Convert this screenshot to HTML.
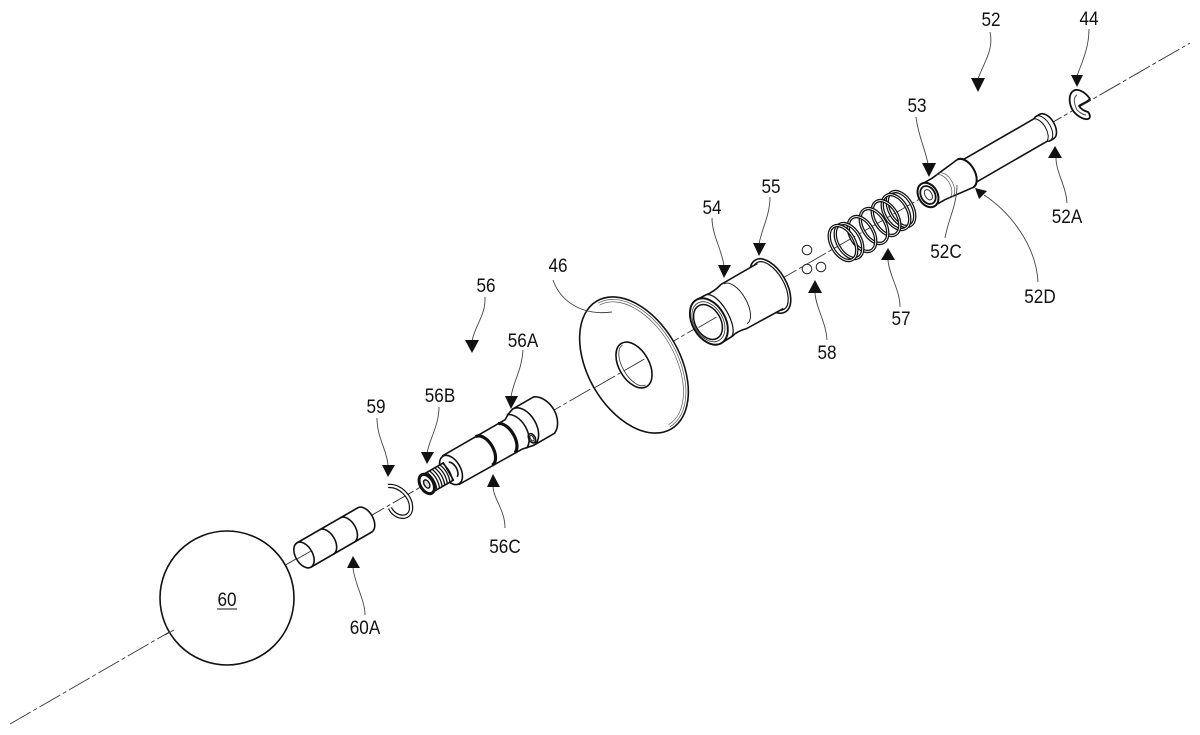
<!DOCTYPE html>
<html>
<head>
<meta charset="utf-8">
<style>
html,body{margin:0;padding:0;background:#fff}
svg{display:block}
text{font-family:"Liberation Sans",Arial,sans-serif;font-size:19.5px;fill:#111;text-anchor:middle}
.o{fill:#fff;stroke:#111;stroke-width:1.6;stroke-linejoin:round}
.n{fill:none;stroke:#111;stroke-width:1.6}
.t{fill:none;stroke:#333;stroke-width:.8}
.g{fill:none;stroke:#555;stroke-width:.7}
.k{fill:none;stroke:#111;stroke-width:3.2}
.a{fill:none;stroke:#333;stroke-width:.9;stroke-dasharray:24 3 4 3}
.l{fill:none;stroke:#444;stroke-width:.9}
.c1{fill:none;stroke:#111;stroke-width:3.4}
.c2{fill:none;stroke:#fff;stroke-width:.9}
.r1{fill:none;stroke:#111;stroke-width:4.4}
.r2{fill:none;stroke:#fff;stroke-width:2}
</style>
</head>
<body>
<svg width="1200" height="735" viewBox="0 0 1200 735" xmlns="http://www.w3.org/2000/svg">
<rect width="1200" height="735" fill="#fff"/>

<!-- axis -->
<line class="a" x1="10" y1="724" x2="1190" y2="43"/>

<!-- sphere 60 -->
<circle cx="227" cy="598" r="67" class="o"/>
<line class="a" x1="165" y1="635" x2="174" y2="630"/>
<text transform="translate(227 606) scale(.88 1)">60</text>
<line x1="217" y1="609" x2="237" y2="609" stroke="#111" stroke-width="1"/>

<!-- 60A -->
<g transform="translate(304 555) rotate(-30)">
<path class="o" d="M0,-14 L70,-14 A8.5 14 0 0 1 70,14 L0,14 Z"/>
<ellipse class="o" cx="0" cy="0" rx="8.5" ry="14"/>
<path class="n" d="M26,-14 A8.5 14 0 0 1 26,14"/>
<path class="n" d="M50,-14 A8.5 14 0 0 1 50,14"/>
<line class="a" x1="-8" y1="0" x2="8" y2="0"/>
</g>

<!-- clip 59 -->
<path class="r1" d="M388,486 C400,485 412,497 411,509 C410,520 395,519 390,508"/>
<path class="r2" d="M388,486 C400,485 412,497 411,509 C410,520 395,519 390,508"/>

<!-- shaft 56 -->
<g transform="translate(451 470) rotate(-30)">
<path class="o" d="M0,-16.5 L72,-16.5 L78,-20 L84,-22 L108,-22 A16 22 0 0 1 108,20 L84,20 L72,17.5 L0,16.5 Z"/>
<path class="n" d="M76,-20 A13 20 0 0 1 76,19"/>
<path class="n" d="M84,-22 A13 21 0 0 1 84,20"/>
<ellipse class="n" cx="86" cy="13" rx="3.2" ry="5"/>
<ellipse class="n" cx="86" cy="13" rx="1.6" ry="3" style="stroke-width:1"/>
<ellipse class="o" cx="0" cy="0" rx="9.5" ry="16"/>
<path class="n" d="M2,-8 A5.5 9 0 0 1 2,9"/>
<path class="k" d="M38,-16.5 A9.5 16.5 0 0 1 38,16.5"/>
<path class="k" d="M64,-16.5 A9.5 17 0 0 1 64,17"/>
<path class="o" d="M-28,-10 L-3,-10 L-3,10 L-28,10 Z"/>
<g class="n" style="stroke-width:1.3">
<path d="M-25,-10 q4,10 0,20"/><path d="M-22,-10 q4,10 0,20"/><path d="M-19,-10 q4,10 0,20"/><path d="M-16,-10 q4,10 0,20"/><path d="M-13,-10 q4,10 0,20"/><path d="M-10,-10 q4,10 0,20"/><path d="M-7,-10 q4,10 0,20"/><path d="M-4,-10 q4,10 0,20"/>
</g>
<ellipse cx="-28" cy="0" rx="6.5" ry="10.5" fill="#fff" stroke="#111" stroke-width="3"/>
<ellipse cx="-28" cy="0" rx="2.6" ry="4.5" fill="#ddd" stroke="#111" stroke-width="1.4"/>
</g>

<!-- disc 46 -->
<g transform="translate(634 365) rotate(-30)">
<ellipse class="o" cx="0" cy="0" rx="46" ry="74"/>
<path class="g" d="M0,-71.5 A43.5 71.5 0 0 1 0,71.5"/>
<path class="g" d="M0,-69 A41 69 0 0 1 0,69"/>
<ellipse class="o" cx="0" cy="0" rx="15" ry="25"/>
<path class="t" d="M0,-23 A11.5 23 0 0 0 0,23"/>
<line class="a" x1="-46" y1="0" x2="12" y2="0"/>
</g>

<!-- sleeve 54/55 -->
<g transform="translate(708 322) rotate(-30)">
<ellipse class="o" cx="72" cy="0" rx="16" ry="30"/>
<ellipse class="n" cx="72" cy="0" rx="13.5" ry="27" style="stroke-width:1.2"/>
<path class="o" style="stroke:none" d="M0,-25 L12,-24.5 Q20,-23 30,-26 L72,-26 L72,26 L30,25 Q20,22.5 14,24.5 L0,25 Z"/>
<path class="n" d="M0,-25 L12,-24.5 Q20,-23 30,-26 L72,-26"/>
<path class="n" d="M0,25 L14,24.5 Q20,22.5 30,25 L72,26"/>
<path class="n" d="M33,-25 A11 23 0 0 1 33,21" style="stroke-width:.9"/>
<path class="n" d="M13,-24 A10 24.5 0 0 1 13,24.5" style="stroke-width:1.2"/>
<ellipse class="o" cx="1" cy="0" rx="16.5" ry="25" style="stroke-width:1.9"/>
<ellipse class="t" cx="0.5" cy="0" rx="14.5" ry="21.5"/>
<ellipse class="n" cx="0" cy="0" rx="12.7" ry="18.7" style="stroke-width:1.5"/>
<line class="a" x1="-11" y1="0" x2="10" y2="0"/>
</g>

<!-- balls 58 -->
<circle cx="807" cy="250" r="4.8" fill="#fff" stroke="#222" stroke-width="1"/>
<circle cx="807" cy="269" r="4.8" fill="#fff" stroke="#222" stroke-width="1"/>
<circle cx="821" cy="267" r="4.8" fill="#fff" stroke="#222" stroke-width="1"/>

<!-- spring 57 -->
<g fill="none">
<ellipse class="c1" cx="901" cy="209" rx="11.5" ry="19" transform="rotate(-30 901 209)"/><ellipse class="c2" cx="901" cy="209" rx="11.5" ry="19" transform="rotate(-30 901 209)"/>
<ellipse class="c1" cx="896" cy="212" rx="11.5" ry="19" transform="rotate(-30 896 212)"/><ellipse class="c2" cx="896" cy="212" rx="11.5" ry="19" transform="rotate(-30 896 212)"/>
<ellipse class="c1" cx="886" cy="218" rx="11.5" ry="19" transform="rotate(-30 886 218)"/><ellipse class="c2" cx="886" cy="218" rx="11.5" ry="19" transform="rotate(-30 886 218)"/>
<ellipse class="c1" cx="874" cy="226" rx="11.5" ry="19" transform="rotate(-30 874 226)"/><ellipse class="c2" cx="874" cy="226" rx="11.5" ry="19" transform="rotate(-30 874 226)"/>
<ellipse class="c1" cx="862" cy="234" rx="11.5" ry="19" transform="rotate(-30 862 234)"/><ellipse class="c2" cx="862" cy="234" rx="11.5" ry="19" transform="rotate(-30 862 234)"/>
<ellipse class="c1" cx="849" cy="241" rx="11.5" ry="19" transform="rotate(-30 849 241)"/><ellipse class="c2" cx="849" cy="241" rx="11.5" ry="19" transform="rotate(-30 849 241)"/>
<ellipse class="c1" cx="843" cy="243" rx="11.5" ry="19" transform="rotate(-30 843 243)"/><ellipse class="c2" cx="843" cy="243" rx="11.5" ry="19" transform="rotate(-30 843 243)"/>
</g>

<!-- pin 52 -->
<g transform="translate(928 195) rotate(-30)">
<path class="o" d="M47,-13 L130,-13 L132,-14 L137,-14 A8 14 0 0 1 137,14 L132,14 L130,13 L47,13 Z"/>
<path class="n" d="M130,-13 A7.5 13.5 0 0 1 130,13" style="stroke-width:1"/>
<path class="n" d="M133,-14 A7.5 14 0 0 1 133,14" style="stroke-width:1"/>
<path class="o" d="M3,-12.5 L12,-12.5 L43,-16 A9.5 16 0 0 1 43,16 L12,12.5 L3,12.5 Z"/>
<path class="g" d="M17,-13 A7.5 13 0 0 1 17,13"/>
<path class="g" d="M20,-13.5 A7.5 13.5 0 0 1 20,13.5"/>
<path class="k" style="stroke-width:2" d="M43,-16 A9.5 16 0 0 1 43,16"/>
<ellipse class="o" cx="0" cy="0" rx="9.5" ry="13" style="stroke-width:2"/>
<ellipse class="n" cx="0" cy="0" rx="7" ry="9.5" style="stroke-width:1.8"/>
<ellipse fill="#fff" stroke="#333" stroke-width="1" cx="0.5" cy="0" rx="3.4" ry="5.6"/>
</g>

<!-- e-clip 44 -->
<path d="M1090,99 C1086,93 1080,89 1075,90 C1069,92 1068,101 1072,109 C1076,116 1084,120 1088,119 C1091,118 1090,114 1088,112 C1084,111 1081,109 1079,106 C1081,104 1086,103 1090,99 Z" fill="#fff" stroke="#111" stroke-width="1.8" stroke-linejoin="round"/>
<path d="M1077,95 C1073,97 1074,104 1077,110 C1080,113 1084,115 1086,115" fill="none" stroke="#555" stroke-width="1"/>

<!-- 46 leader -->
<path class="l" d="M553,280 C560,300 580,316 612,312"/>

<!-- leaders -->
<path class="l" d="M990,32 C994,50 984,62 978,79"/>
<path class="l" d="M1089,29 C1089,48 1082,62 1077,76"/>
<path class="l" d="M916,117 C918,135 925,148 928,164"/>
<path class="l" d="M1067,203 C1066,186 1056,172 1056,158"/>
<path class="l" d="M1038,282 C1036,245 1010,212 984,195"/>
<path class="l" d="M957,185 C957,205 948,220 945,238"/>
<path class="l" d="M712,218 C712,235 722,250 724,266"/>
<path class="l" d="M770,197 C770,215 762,228 759,244"/>
<path class="l" d="M827,340 C826,322 816,308 815,293"/>
<path class="l" d="M900,307 C900,290 889,275 888,260"/>
<path class="l" d="M485,297 C486,315 475,325 472,341"/>
<path class="l" d="M523,350 C522,370 513,382 511,397"/>
<path class="l" d="M439,407 C439,425 430,438 427,453"/>
<path class="l" d="M377,418 C377,438 387,450 388,465"/>
<path class="l" d="M505,528 C505,510 494,500 493,487"/>
<path class="l" d="M365,615 C365,600 355,585 353,568"/>

<!-- arrowheads -->
<g fill="#111">
<polygon points="978,92 971,78 985,78"/>
<polygon points="1077,87 1071,75 1083,75"/>
<polygon points="929,177 922,163 936,163"/>
<polygon points="1055,146 1048,158 1062,158"/>
<polygon points="975,188 987,191 979,199"/>
<polygon points="724,278 718,265 731,265"/>
<polygon points="759,256 753,243 766,243"/>
<polygon points="815,280 808,293 822,293"/>
<polygon points="888,248 881,260 895,260"/>
<polygon points="472,353 465,340 479,340"/>
<polygon points="511,409 505,396 518,396"/>
<polygon points="427,464 421,452 434,452"/>
<polygon points="388,477 382,465 395,465"/>
<polygon points="493,474 487,487 500,487"/>
<polygon points="353,556 347,568 360,568"/>
</g>

<!-- labels -->
<text transform="translate(991 26) scale(.88 1)">52</text>
<text transform="translate(1089 25) scale(.88 1)">44</text>
<text transform="translate(917 112) scale(.88 1)">53</text>
<text transform="translate(712 214) scale(.88 1)">54</text>
<text transform="translate(771 193) scale(.88 1)">55</text>
<text transform="translate(946 258) scale(.88 1)">52C</text>
<text transform="translate(1067 223) scale(.88 1)">52A</text>
<text transform="translate(1040 303) scale(.88 1)">52D</text>
<text transform="translate(901 325) scale(.88 1)">57</text>
<text transform="translate(827 359) scale(.88 1)">58</text>
<text transform="translate(558 272) scale(.88 1)">46</text>
<text transform="translate(486 292) scale(.88 1)">56</text>
<text transform="translate(523 347) scale(.88 1)">56A</text>
<text transform="translate(440 402) scale(.88 1)">56B</text>
<text transform="translate(376 413) scale(.88 1)">59</text>
<text transform="translate(505 553) scale(.88 1)">56C</text>
<text transform="translate(365 634) scale(.88 1)">60A</text>
</svg>
</body>
</html>
